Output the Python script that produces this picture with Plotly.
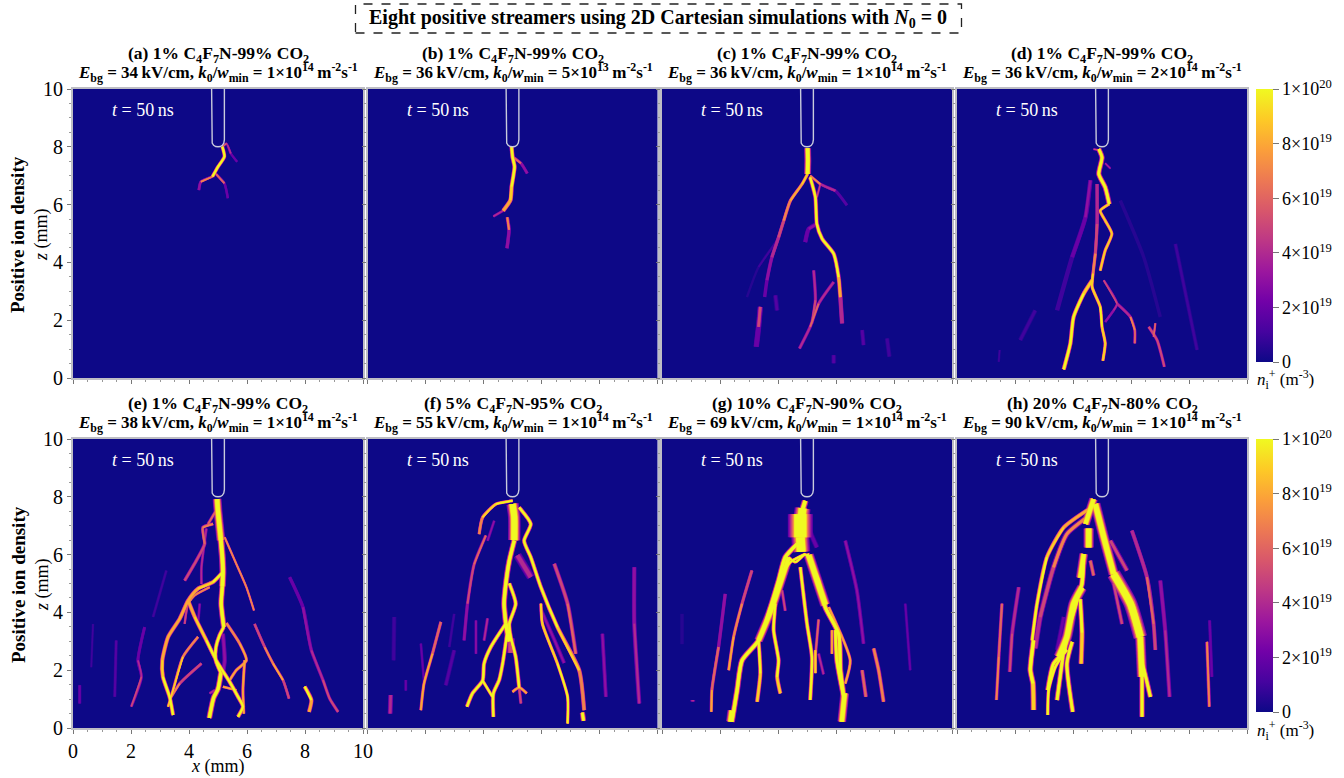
import plotly.graph_objects as go
from plotly.colors import sample_colorscale

W, H = 1344, 778
# ---------- chart data (mm, mm, density in 1e19 m^-3); each filament: (thickness, points)
tick_labels = ["0", "2", "4", "6", "8", "10"]
cbar_vals = [0, 2e19, 4e19, 6e19, 8e19, 1e20]
cbar_text = ["0", "2×10<sup>19</sup>", "4×10<sup>19</sup>", "6×10<sup>19</sup>", "8×10<sup>19</sup>", "1×10<sup>20</sup>"]
mix = ["1% C<sub>4</sub>F<sub>7</sub>N-99% CO<sub>2</sub>"] * 5 + ["5% C<sub>4</sub>F<sub>7</sub>N-95% CO<sub>2</sub>",
       "10% C<sub>4</sub>F<sub>7</sub>N-90% CO<sub>2</sub>", "20% C<sub>4</sub>F<sub>7</sub>N-80% CO<sub>2</sub>"]
letters = list("abcdefgh")
e_bg = [34, 36, 36, 36, 38, 55, 69, 90]
k0 = ["1×10<sup>14</sup>", "5×10<sup>13</sup>", "1×10<sup>14</sup>", "2×10<sup>14</sup>", "1×10<sup>14</sup>", "1×10<sup>14</sup>", "1×10<sup>14</sup>", "1×10<sup>14</sup>"]
needle_x = [4.78, 4.78, 4.8, 4.85, 4.92, 5.0, 5.08, 5.15, 5.2, 5.22, 5.22]
needle_z = [10, 8.25, 8.13, 8.05, 8.01, 8.0, 8.01, 8.05, 8.13, 8.25, 10]

panel_a = [
    (2.2, [(5.15,8,10),(5.22,7.66,10),(5.0,7.31,10),(4.81,6.97,10)]),
    (1.4, [(5.15,8,7),(5.29,8.11,6),(5.44,7.77,3),(5.66,7.48,1.2)]),
    (1.6, [(4.81,6.97,9),(4.41,6.79,5),(4.34,6.5,1.5)]),
    (1.6, [(4.93,7.06,8),(5.22,6.74,4),(5.34,6.22,1.2)]),
]
panel_b = [
    (2.6, [(4.97,8,10),(5,7.66,10),(5.07,7.31,10),(4.97,6.62,10),(4.93,6.16,9),(4.68,5.79,7)]),
    (1.6, [(4.68,5.79,7),(4.34,5.59,2)]),
    (1.8, [(5,7.66,8),(5.29,7.43,5),(5.51,7.08,2)]),
    (2.0, [(4.82,5.56,10),(4.88,5.13,5),(4.81,4.49,1)]),
]
panel_c = [
    (4.0, [(5.02,7.95,10),(5.03,7.52,10),(5.02,7.06,10)]),
    (2.0, [(5.02,7.06,10),(4.83,6.71,9),(4.43,6.14,8),(4.2,5.45,6),(4.02,4.87,5),(3.79,4.18,4),(3.62,3.38,3),(3.54,2.8,1.5)]),
    (2.4, [(5.11,6.94,10),(5.29,6.25,10),(5.34,5.33,10),(5.52,4.82,10),(5.92,4.3,10),(6.09,3.49,10),(6.15,2.8,7),(6.21,1.89,1.5)]),
    (1.6, [(5.11,7.0,8),(5.46,6.71,6),(5.98,6.48,2),(6.38,5.97,1)]),
    (1.4, [(5.34,6.25,5),(5.46,6.71,5)]),
    (3.0, [(5.34,5.33,3),(5.06,5.16,3),(4.94,4.7,1.5)]),
    (2.0, [(5.92,3.32,3),(5.4,2.57,6),(5.11,1.77,6),(4.74,1.02,2)]),
    (2.0, [(5.23,3.72,3),(5.29,2.69,5),(5.17,1.9,6)]),
    (3.0, [(3.39,2.46,7),(3.33,1.77,3),(3.25,1.08,1)]),
    (3.0, [(3.91,2.86,2),(3.97,2.34,1.2)]),
    (3.0, [(6.9,1.66,1.8),(6.95,1.14,1.2)]),
    (3.0, [(7.76,1.37,1.5),(7.84,.74,1)]),
    (3.0, [(5.92,.79,2),(5.92,.51,1.2)]),
    (2.0, [(3.97,4.76,1.2),(3.33,3.84,1),(2.93,2.8,.6)]),
]
panel_d = [
    (3.0, [(4.89,7.92,10),(5,7.63,10),(4.89,7.06,10),(5.11,6.6,10),(5.25,6.02,10)]),
    (2.0, [(5.25,6.02,10),(4.94,5.79,9),(5.11,5.45,9),(5.34,4.99,9),(5.11,4.41,9),(4.94,3.72,9)]),
    (2.0, [(4.83,6.71,4),(4.83,5.33,4),(4.77,4.3,6),(4.69,3.61,9),(4.66,3.15,9),(4.94,2.46,10),(5,1.77,10),(5.11,1.2,9),(5.03,.6,10)]),
    (2.6, [(4.66,3.38,8),(4.37,2.92,10),(4.02,2.11,10),(3.91,1.2,10),(3.68,.3,10)]),
    (1.5, [(5.06,3.38,6),(5.52,2.57,5),(5.4,2.34,4),(5.11,1.94,3)]),
    (1.8, [(5.52,2.57,4),(5.98,2.11,5),(6.13,1.66,9),(6.13,1.2,3)]),
    (2.0, [(6.61,1.77,3),(6.9,1.31,8),(7.15,.39,2)]),
    (1.5, [(6.84,1.89,6),(6.78,1.43,6)]),
    (3.0, [(4.6,6.84,3),(4.43,5.56,3),(3.97,4.18,1.2),(3.45,2.34,1)]),
    (3.0, [(2.7,2.34,1.5),(2.18,1.31,1)]),
    (3.0, [(7.53,4.64,1),(8.28,.97,1.3)]),
    (3.0, [(5.63,6.14,.7),(6.44,4.18,.8),(7.01,2.11,.7)]),
    (2.0, [(1.47,.97,1.2),(1.44,.56,.8)]),
    (1.4, [(5.11,7.43,5),(5.29,7.25,3)]),
    (1.4, [(4.71,7.92,4),(4.94,7.87,6)]),
]
panel_e = [
    (5.0, [(4.97,7.92,10),(5.0,7.5,10),(5.05,7.0,10),(5.1,6.5,10)]),
    (4.0, [(5.1,6.5,10),(5.15,5.9,10),(5.17,5.4,10),(5.15,4.9,10)]),
    (3.5, [(5.15,4.9,10),(5.11,4.3,10),(5.17,3.72,10),(5.2,3.5,10)]),
    (2.5, [(5.2,3.5,10),(5.05,3.2,10),(4.93,2.8,10),(4.92,2.35,10),(5.1,1.9,10)]),
    (3.5, [(5.1,1.9,10),(5.0,1.35,10),(4.85,1.05,10),(4.7,.35,10)]),
    (2.5, [(5.17,5.4,10),(4.83,5.05,10),(4.31,4.82,9),(3.97,4.41,8),(3.68,3.78,8),(3.28,3.15,8),(3.08,2.34,9),(3.1,1.77,10),(3.33,1.08,10),(3.45,.45,10)]),
    (1.5, [(4.71,4.87,7),(4.2,4.59,7),(3.97,4.3,7),(3.85,3.6,4)]),
    (2.5, [(3.97,4.41,7),(4.2,3.84,9),(4.6,3.03,10),(4.94,2.34,10),(5.4,1.6,10),(5.69,1.08,10),(5.86,.74,10),(5.69,.39,10)]),
    (2.0, [(5.29,3.63,7),(5.75,2.92,8),(5.98,2.34,9),(5.63,2,8),(5.4,1.65,8)]),
    (2.0, [(5.92,2.34,8),(5.86,1.31,8),(5.89,.5,8)]),
    (1.5, [(5.23,6.6,8),(5.63,5.68,7),(5.98,4.87,7),(6.24,4.07,8)]),
    (1.8, [(6.26,3.6,4),(6.61,2.8,6),(6.9,2.23,9),(7.24,1.66,8),(7.45,1.02,3)]),
    (2.0, [(7.47,5.22,2),(7.93,4.18,3),(8.22,2.69,4),(8.62,1.66,5),(8.85,1.02,6),(9.14,.56,5)]),
    (2.5, [(7.99,1.43,10),(8.22,.97,10),(8.14,.56,6)]),
    (1.8, [(2.47,3.49,2),(2.24,2.34,3),(2.36,1.77,6),(2.01,.74,4)]),
    (2.0, [(1.49,3.03,1.5),(1.44,1.08,2)]),
    (2.0, [(.69,3.6,.9),(.63,2.1,1.2)]),
    (2.0, [(.23,1.48,3),(.23,.85,2)]),
    (2.0, [(3.22,5.45,1.5),(2.76,3.84,1)]),
    (1.8, [(4.31,3.15,6),(3.79,2.46,8),(3.45,1.31,10),(3.28,.74,8)]),
    (1.8, [(4.43,2.23,4),(3.68,1.54,6),(3.39,1.08,9)]),
    (2.0, [(4.83,7.06,8),(4.48,6.94,7),(4.54,6.37,5),(4.25,5.79,5),(3.85,5.1,5)]),
    (1.8, [(4.6,6.9,4),(4.43,5.56,4),(4.43,4.98,4)]),
    (2.0, [(4.92,7.5,6),(4.66,7.06,6)]),
    (3.0, [(5.17,3.26,3),(5.23,2.34,3),(5.17,1.9,3)]),
    (2.0, [(4.37,4.3,3),(4.31,3.6,3)]),
    (1.8, [(5.17,1.43,8),(5.63,1.31,8)]),
    (1.6, [(4.89,1.31,6),(4.71,1.2,3)]),
]
panel_f = [
    (7.0, [(5.0,7.75,10),(5.06,7.3,10),(5.06,6.5,10)]),
    (3.5, [(5.06,6.48,10),(4.89,5.79,10),(4.77,4.99,10),(4.71,4.3,10),(4.77,3.61,10)]),
    (4.0, [(4.77,3.61,10),(4.89,3.0,10)]),
    (2.5, [(4.89,5.0,10),(5.11,4.3,10),(4.89,3.61,10),(4.94,3.15,10),(5.11,2.46,10),(5.23,1.4,10)]),
    (2.0, [(5,1.25,8),(5.23,1.4,9),(5.49,1.2,7)]),
    (2.0, [(5.23,1.4,8),(5.29,.85,3)]),
    (2.5, [(4.77,3.61,10),(4.25,2.8,10),(4.02,2.23,10),(3.97,1.64,10),(3.62,1.2,10),(3.43,.74,10)]),
    (2.5, [(4.83,3.38,10),(4.66,2.23,10),(4.54,1.66,10),(4.34,1.2,10),(4.34,.39,10)]),
    (2.0, [(3.97,1.64,10),(4.31,1.08,10)]),
    (2.0, [(5,7.86,10),(4.43,7.75,10),(3.97,7.29,9),(3.85,6.71,6)]),
    (2.0, [(4.08,6.66,6),(3.68,5.67,6),(3.45,4.3,5),(3.33,3.03,2)]),
    (2.0, [(4.37,7.17,3),(4.14,6.48,3)]),
    (2.5, [(5.23,7.63,10),(5.63,7.06,10),(5.4,6.48,10),(5.63,5.91,10),(5.98,4.87,10),(6.55,3.49,10),(7.3,2,9),(7.47,.62,6)]),
    (2.0, [(5.98,4.3,9),(6.03,3.61,9),(6.55,2.23,10),(6.9,1.08,10),(6.9,.16,10)]),
    (2.5, [(6.44,5.68,4),(6.9,4.3,6),(7.18,2.57,7)]),
    (3.0, [(7.41,.53,10),(7.45,.25,10)]),
    (2.5, [(9.2,5.56,3),(9.2,3.61,4),(9.37,.85,5)]),
    (2.5, [(8.1,3.26,3),(8.22,1.08,3)]),
    (2.0, [(2.53,3.67,6),(2.24,2.57,7),(1.95,1.54,9),(1.84,.62,7)]),
    (1.6, [(1.84,2.92,2),(1.95,1.6,3)]),
    (3.0, [(.8,1.14,6),(.78,.5,3)]),
    (3.0, [(.92,3.84,1.5),(.9,2.34,1)]),
    (2.0, [(1.32,1.66,2),(1.32,1.3,2)]),
    (3.0, [(2.99,2.69,1.8),(2.7,1.48,1.2)]),
    (2.0, [(2.99,3.95,1.5),(2.82,2.8,1)]),
    (2.0, [(4.14,3.79,4),(4.02,3.03,4)]),
    (2.0, [(3.74,3.72,3),(3.74,2.57,3)]),
    (5.0, [(4.94,3.1,6),(4.94,2.6,5)]),
    (5.0, [(5.17,5.98,4),(5.63,5.22,4)]),
    (2.5, [(5.98,4.1,3),(6.44,3.06,3),(6.78,2.25,3)]),
]
panel_g = [
    (4.0, [(4.94,7.86,10),(4.83,7.5,10)]),
    (9.0, [(4.85,7.6,10),(4.8,7.2,10)]),
    (14.0, [(4.77,7.4,10),(4.77,6.6,10)]),
    (10.0, [(4.77,6.6,10),(4.8,6.1,10)]),
    (5.0, [(4.37,5.9,10),(3.79,4.14,10),(3.33,3.03,10)]),
    (6.0, [(5.06,5.98,10),(5.63,4.26,10)]),
    (3.0, [(5.98,3.38,10),(6.03,2.34,10),(6.26,1.08,10)]),
    (5.0, [(6.3,1.2,10),(6.2,.22,10)]),
    (5.0, [(2.41,.6,10),(2.36,.22,10)]),
    (2.0, [(4.37,5.9,10),(4.6,5.74,10),(4.94,6.0,10),(5.2,5.75,10)]),
    (3.5, [(4.66,6.37,10),(4.25,5.91,10),(4.02,5.1,10),(3.74,4.18,10),(3.33,3.03,10),(2.76,2.34,10),(2.59,1.31,10),(2.41,.22,10)]),
    (2.0, [(4.94,6.02,10),(4.43,5.74,10),(4.08,5.16,10)]),
    (2.5, [(3.91,4.3,10),(3.85,3.38,10),(4.02,2.34,10),(3.97,1.77,10),(4.08,1.2,9)]),
    (2.5, [(3.33,3.03,10),(3.39,1.89,10),(3.28,.91,9)]),
    (2.0, [(3.1,5.45,3),(2.76,4.3,7),(2.47,3.15,8),(2.3,2,8)]),
    (2.0, [(2.18,4.64,3),(1.95,2.8,4),(1.72,1.31,9),(1.7,.56,7)]),
    (3.0, [(.69,3.95,1),(.69,2.9,.8)]),
    (3.0, [(1.06,.97,4),(1.06,.92,4)]),
    (3.5, [(5,6.02,10),(5.4,5.1,10),(5.63,4.18,10),(6.09,3.26,10),(6.15,2,10),(6.26,1.08,10),(6.21,.22,10)]),
    (2.5, [(4.77,5.56,10),(5,3.61,10),(5.17,2.46,10),(5.11,.97,10)]),
    (2.0, [(5.29,2.69,9),(5.29,1.9,9)]),
    (2.0, [(5.4,3.75,6),(5.29,2.5,6)]),
    (2.0, [(5.75,4.18,8),(6.49,2.34,8),(6.32,1.54,8)]),
    (2.0, [(5.86,3.38,8),(5.86,2.57,8)]),
    (2.5, [(6.32,6.48,2.5),(6.72,4.76,4),(6.95,2.92,2)]),
    (2.5, [(7.3,2.75,7),(7.47,2,8),(7.64,.91,6)]),
    (2.5, [(6.9,2,7),(7.03,1.08,5)]),
    (2.0, [(8.39,4.3,2.5),(8.56,2,1.5)]),
    (3.0, [(5.06,6.88,3),(5.34,6.25,2)]),
    (2.0, [(5.4,2.57,4),(5.57,1.86,4)]),
    (2.0, [(4.14,4.76,5),(4.25,4.06,5)]),
]
panel_h = [
    (5.0, [(4.71,7.92,10),(4.43,7.06,10)]),
    (6.0, [(4.54,6.9,10),(4.54,6.25,10)]),
    (5.0, [(4.37,6.02,10),(4.25,5.2,10)]),
    (6.0, [(4.31,4.86,10),(4.02,4.3,10),(3.79,3.15,10),(3.51,2.46,10)]),
    (3.0, [(4.25,4.45,10),(4.31,3.3,10),(4.28,2.23,9)]),
    (3.0, [(3.79,2.7,10),(3.33,2.23,10),(3.13,1.31,10)]),
    (3.0, [(3.68,2.7,10),(3.45,.97,10)]),
    (3.0, [(3.97,2.98,10),(3.79,2.23,10),(3.99,.56,10)]),
    (3.5, [(2.64,3.03,10),(2.53,2.0,10),(2.62,1.54,10),(2.64,.62,9)]),
    (6.0, [(4.77,7.75,10),(5.06,6.6,10),(5.4,5.33,10)]),
    (8.0, [(5.4,5.33,10),(5.98,4.3,10),(6.32,3.15,10)]),
    (6.0, [(6.32,3.15,10),(6.38,1.77,10)]),
    (3.5, [(4.37,6.02,10),(4.31,5,10),(4.14,4.43,10),(3.85,3.38,10),(3.68,2.57,10)]),
    (2.2, [(3.68,2.57,10),(3.39,2.11,10),(3.16,1.31,10),(3.13,.45,10)]),
    (3.0, [(6.38,1.77,10),(6.38,.39,10)]),
    (3.0, [(6.32,2.57,10),(6.67,1.08,10)]),
    (2.5, [(4.54,7.57,8),(3.68,6.94,9),(3.1,5.91,10),(2.76,4.3,10),(2.59,3.03,10)]),
    (3.0, [(4.48,7.29,6),(3.79,6.71,8),(3.33,5.56,6),(2.87,3.84,5),(2.7,2.76,3)]),
    (2.0, [(1.55,4.3,5),(1.44,2.46,8),(1.36,.97,7)]),
    (2.5, [(2.13,4.87,2),(1.9,3.26,6),(1.82,1.94,4)]),
    (2.5, [(6.03,6.83,3),(6.55,5.22,5),(6.78,3.6,7),(6.84,2.7,3)]),
    (2.5, [(7.01,5.1,2),(7.18,3.38,4),(7.33,1.08,5)]),
    (3.0, [(5.29,6.48,5),(5.86,5.45,5)]),
    (2.5, [(5.4,5,5),(5.69,3.6,5)]),
    (2.5, [(6.09,4.41,6),(6.26,3.6,6)]),
    (2.0, [(8.62,2.98,7),(8.7,.74,7)]),
    (2.0, [(8.71,3.72,2.5),(8.79,1.77,2.5)]),
    (2.5, [(4.6,5.79,8),(4.71,5.28,4)]),
    (3.0, [(3.68,3.84,2),(3.45,2.7,2)]),
]
panels = [panel_a, panel_b, panel_c, panel_d, panel_e, panel_f, panel_g, panel_h]
levels = [0.5, 1, 1.5, 2, 3, 4, 5, 6, 7, 8, 9, 10]

# ---------- layout geometry (pixels)
col_left = [73, 367.5, 662, 957]
pw = 290
row_top = [89, 439]
ph = 289
serif = "Liberation Serif"
thin = "\u2009"

def px(x): return x / W
def py(y): return 1 - y / H

def colour(v):
    return sample_colorscale("Plasma", [max(0, min(v, 10)) / 10])[0]

def text(x, y, s, size, color="black", angle=0, xa="center"):
    return dict(x=px(x), y=py(y), xref="paper", yref="paper", showarrow=False, xanchor=xa, yanchor="middle",
                textangle=angle, text=s, font=dict(size=size, family=serif, color=color))

fig = go.Figure()
layout = dict(width=W, height=H, autosize=False, margin=dict(l=0, r=0, t=0, b=0, pad=0, autoexpand=False), paper_bgcolor="white",
              plot_bgcolor="#0d0887", showlegend=False, font=dict(family=serif, color="black"))
annots, shapes = [], []

for i, data in enumerate(panels):
    n = i + 1
    r, c = i // 4, i % 4
    suffix = "" if n == 1 else str(n)
    ax = dict(range=[0, 10], showgrid=False, zeroline=False, ticks="outside", ticklen=4, tickwidth=1, tickcolor="#777",
              tickmode="array", tickvals=[0, 2, 4, 6, 8, 10], ticktext=tick_labels,
              minor=dict(ticks="outside", ticklen=2, tickcolor="#999", dtick=0.5, tick0=0, showgrid=False),
              showline=True, linecolor="#bdbdc4", linewidth=2, mirror=True, tickfont=dict(size=20, family=serif), fixedrange=True)
    layout["xaxis" + suffix] = dict(ax, domain=[px(col_left[c]), px(col_left[c] + pw)], anchor="y" + suffix,
                                    showticklabels=(n == 5))
    layout["yaxis" + suffix] = dict(ax, domain=[py(row_top[r] + ph), py(row_top[r])], anchor="x" + suffix,
                                    showticklabels=(c == 0))
    # nested colour levels: each level draws the stretches of a filament at or above that density
    groups = {}
    for w, pts in data:
        vmax = max((a[2] + b[2]) / 2 for a, b in zip(pts[:-1], pts[1:]))
        for L in levels:
            if L > vmax or L < 0.2 * vmax:
                continue
            t = L / vmax
            lw = round((w * (0.85 + 1.3 * (1 - t) ** 1.5)) * 2) / 2
            g = groups.setdefault((L, lw), [[], []])
            prev = False
            for a, b in zip(pts[:-1], pts[1:]):
                on = (a[2] + b[2]) / 2 >= L
                if on:
                    if not prev:
                        g[0].append(a[0]); g[1].append(a[1])
                    g[0].append(b[0]); g[1].append(b[1])
                elif prev:
                    g[0].append(None); g[1].append(None)
                prev = on
            g[0].append(None); g[1].append(None)
    for (L, lw), (xs, zs) in sorted(groups.items(), key=lambda kv: (kv[0][0], -kv[0][1])):
        fig.add_trace(go.Scatter(x=xs, y=zs, mode="lines", xaxis="x" + suffix, yaxis="y" + suffix, hoverinfo="skip",
                                 line=dict(color=colour(L), width=lw, shape="spline", smoothing=0.6)))
    # needle electrode
    fig.add_trace(go.Scatter(x=needle_x, y=needle_z, mode="lines", xaxis="x" + suffix, yaxis="y" + suffix, hoverinfo="skip",
                             line=dict(color="#c9cbdc", width=1.4)))
    cx = col_left[c] + pw / 2
    top = row_top[r]
    annots.append(text(cx, top - 35, f"<b>({letters[i]}) {mix[i]}</b>", 17.5))
    annots.append(text(cx, top - 17, f"<b><i>E</i><sub>bg</sub> = {e_bg[i]}{thin}kV/cm, <i>k</i><sub>0</sub>/<i>w</i><sub>min</sub> = {k0[i]}{thin}m<sup>-2</sup>s<sup>-1</sup></b>", 17))
    annots.append(text(col_left[c] + 37, top + 21, f"<i>t</i> = 50{thin}ns", 18, color="white", xa="left"))

# colour bars
for r, ref in enumerate(["", "5"]):
    fig.add_trace(go.Scatter(x=[-1], y=[-1], mode="markers", xaxis="x" + ref, yaxis="y" + ref, hoverinfo="skip",
                             marker=dict(color=[0], cmin=0, cmax=1e20, colorscale="Plasma", showscale=True,
                                         colorbar=dict(x=px(1256), xanchor="left", xpad=0, ypad=0, y=py(row_top[r]), yanchor="top",
                                                       lenmode="pixels", len=273, thicknessmode="pixels", thickness=17,
                                                       outlinewidth=0, ticks="outside", ticklen=6, tickcolor="#777",
                                                       tickmode="array", tickvals=cbar_vals, ticktext=cbar_text,
                                                       tickfont=dict(size=18, family=serif)))))
    annots.append(text(1255, row_top[r] + 291, "<i>n</i><sub>i</sub><sup>+</sup> (m<sup>-3</sup>)", 17, xa="left"))
    annots.append(text(18, row_top[r] + 146, "<b>Positive ion density</b>", 19, angle=-90))
    annots.append(text(42, row_top[r] + 146, "<i>z</i> (mm)", 18, angle=-90))

annots.append(text(218, 766, "<i>x</i> (mm)", 18))
annots.append(text(658, 18, "<b>Eight positive streamers using 2D Cartesian simulations with <i>N</i><sub>0</sub> = 0</b>", 20))
shapes.append(dict(type="rect", xref="paper", yref="paper", x0=px(355.5), x1=px(961.5), y0=py(33), y1=py(4),
                   line=dict(color="#222", width=1.3, dash="dash")))
layout["annotations"] = annots
layout["shapes"] = shapes
fig.update_layout(**layout)
fig.write_html("out.html", config={"displayModeBar": False}, post_script="document.body.style.margin='0';")
